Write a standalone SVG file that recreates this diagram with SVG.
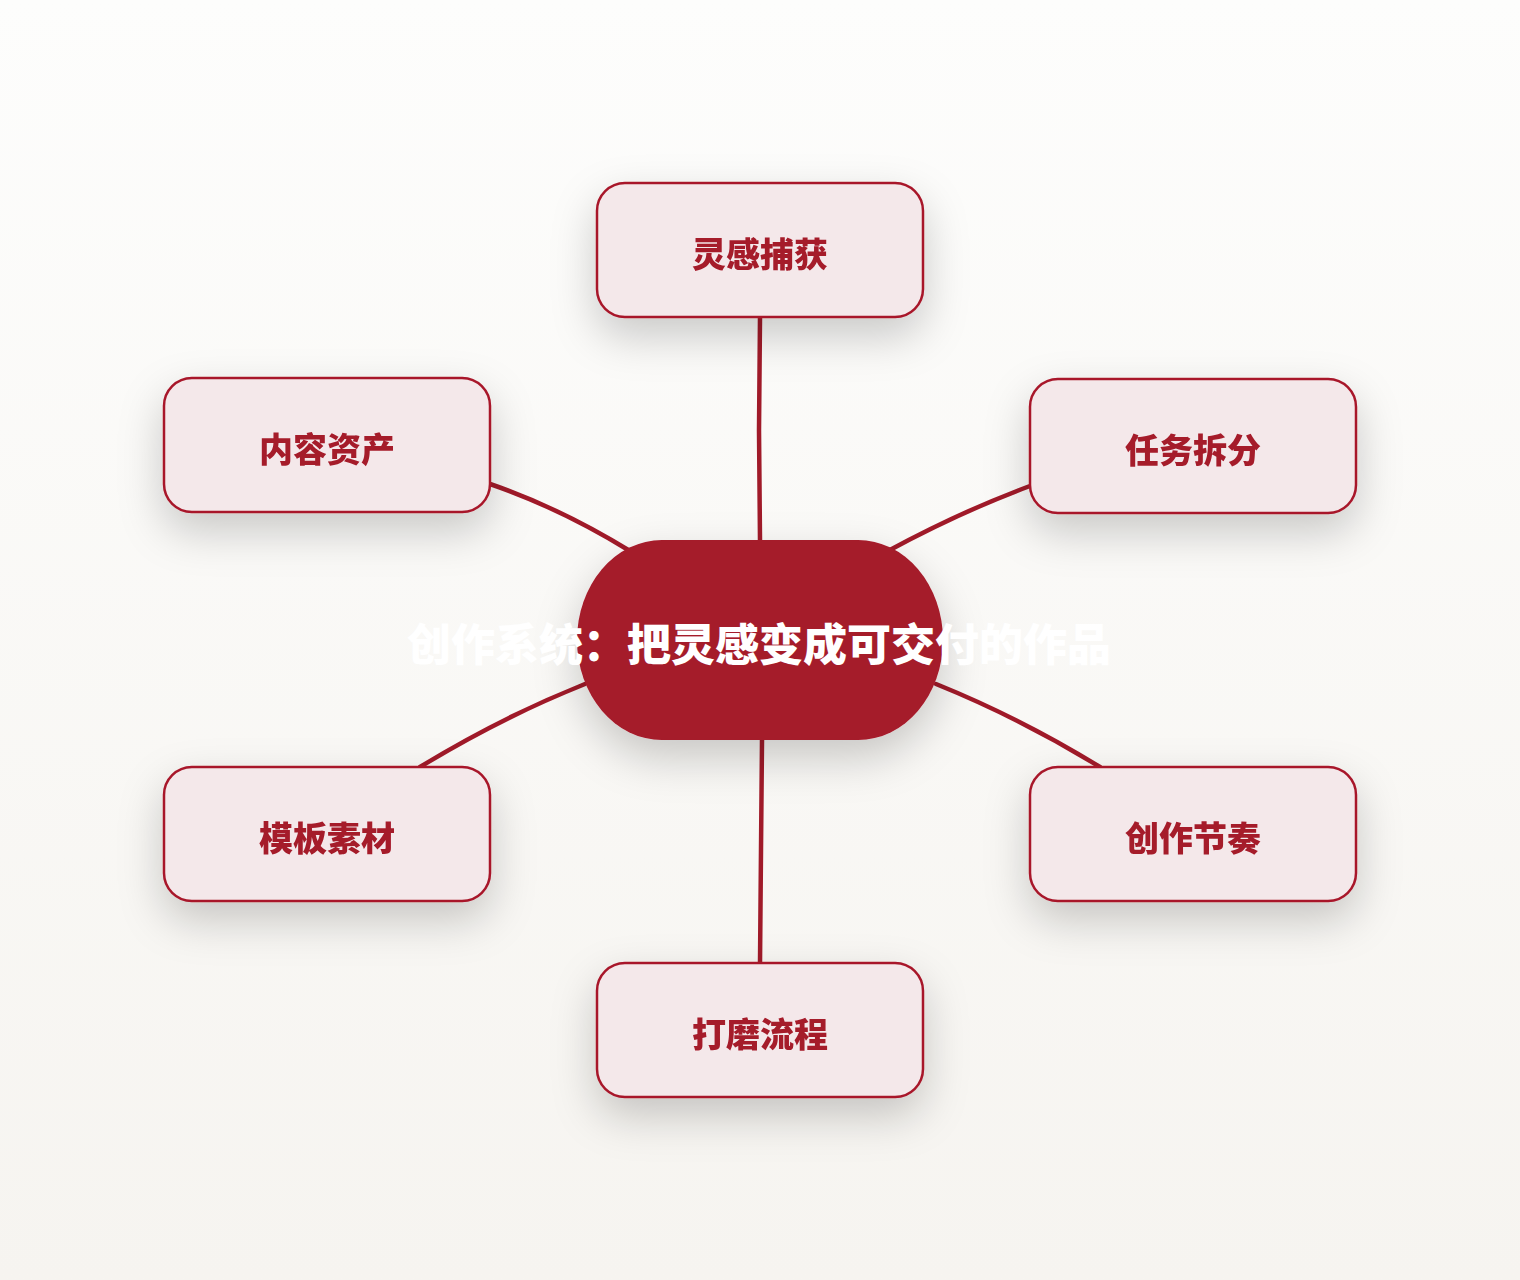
<svg xmlns="http://www.w3.org/2000/svg" width="1520" height="1280" viewBox="0 0 1520 1280">
<defs>
<linearGradient id="bg" x1="0" y1="0" x2="0" y2="1">
<stop offset="0" stop-color="#FDFDFC"/>
<stop offset="1" stop-color="#F6F4F0"/>
</linearGradient>
<filter id="sh" x="-40%" y="-60%" width="180%" height="240%">
<feDropShadow dx="0" dy="18" stdDeviation="22" flood-color="#000" flood-opacity="0.2"/>
</filter>
<style>
.node rect{fill:#F4E8EA;stroke:#A8192B;stroke-width:2.5}
.node text{font-family:"Noto Sans CJK SC","Noto Sans",sans-serif;font-weight:900;font-size:34px;fill:#A51A2A;text-anchor:middle;dominant-baseline:central}
.edge{fill:none;stroke:#A01A29;stroke-width:4.5;stroke-linecap:round}
.center-shape{fill:#A51A2A}
.center-text{font-family:"Noto Sans CJK SC","Noto Sans",sans-serif;font-weight:900;font-size:44px;fill:#FFFFFF;text-anchor:middle;dominant-baseline:central}
</style>
</defs>
<rect x="0" y="0" width="1520" height="1280" fill="url(#bg)"/>
<g id="connectors">
<path class="edge" d="M760,317 L759,430 L760,540"/>
<path class="edge" d="M490,484 Q560,508 630,551"/>
<path class="edge" d="M1030,486 Q960,512 888,551"/>
<path class="edge" d="M585,684 Q500,718 420,767"/>
<path class="edge" d="M936,684 Q1020,718 1100,767"/>
<path class="edge" d="M762,740 L761,850 L760,963"/>
</g>
<g id="node-top" class="node" filter="url(#sh)">
<rect x="597" y="183" width="326" height="134" rx="28"/>
<text x="760" y="252">灵感捕获</text>
</g>
<g id="node-left-upper" class="node" filter="url(#sh)">
<rect x="164" y="378" width="326" height="134" rx="28"/>
<text x="327" y="447">内容资产</text>
</g>
<g id="node-right-upper" class="node" filter="url(#sh)">
<rect x="1030" y="379" width="326" height="134" rx="28"/>
<text x="1193" y="448">任务拆分</text>
</g>
<g id="node-left-lower" class="node" filter="url(#sh)">
<rect x="164" y="767" width="326" height="134" rx="28"/>
<text x="327" y="836">模板素材</text>
</g>
<g id="node-right-lower" class="node" filter="url(#sh)">
<rect x="1030" y="767" width="326" height="134" rx="28"/>
<text x="1193" y="836">创作节奏</text>
</g>
<g id="node-bottom" class="node" filter="url(#sh)">
<rect x="597" y="963" width="326" height="134" rx="28"/>
<text x="760" y="1032">打磨流程</text>
</g>
<g id="node-center">
<rect class="center-shape" x="577" y="540" width="366" height="200" rx="85" ry="100" filter="url(#sh)"/>
<text class="center-text" x="759" y="642">创作系统：把灵感变成可交付的作品</text>
</g>
</svg>
